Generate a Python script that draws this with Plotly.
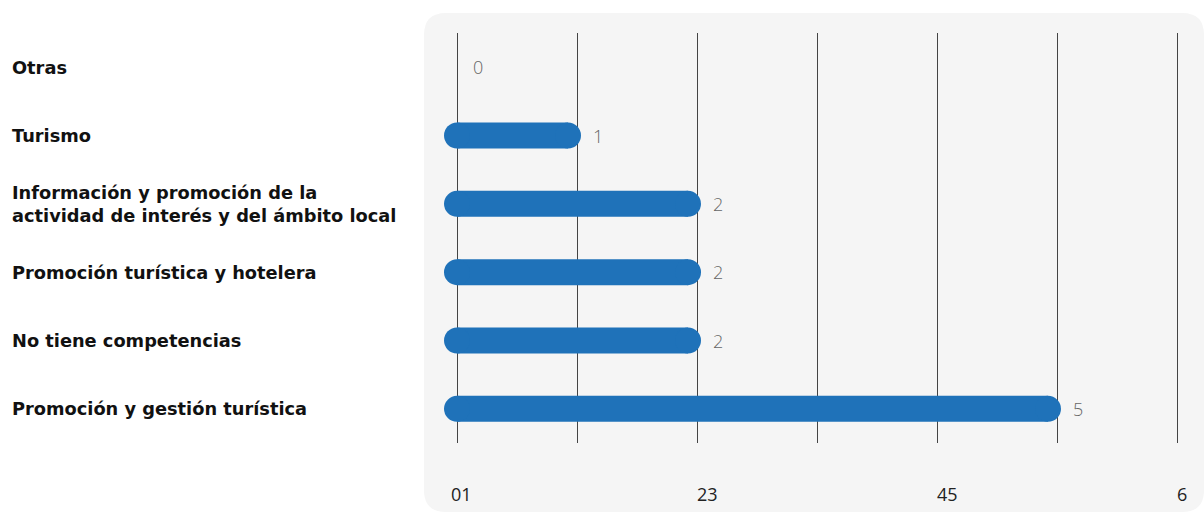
import plotly.graph_objects as go

categories = [
    "Otras",
    "Turismo",
    "Información y promoción de la<br>actividad de interés y del ámbito local",
    "Promoción turística y hotelera",
    "No tiene competencias",
    "Promoción y gestión turística",
]
values = [0, 1, 2, 2, 2, 5]
tick_vals = [0, 2, 4, 6]
tick_text = ["01", "23", "45", "6"]

W, H = 1204, 513
ML, MR, MT, MB = 439, 9, 33, 70
PW, PH = W - ML - MR, H - MT - MB
BAR_COLOR = "#1f72b9"
LABEL_FONT = "DejaVu Sans"
NUM_FONT = "Open Sans"

def px(x):
    return (x - ML) / PW

def py(y):
    return 1 - (y - MT) / PH

# rounded background panel (pixel geometry -> paper coords)
x0, y0, x1, y1, r = 424, 13, 1204, 512, 22
path = (
    f"M {px(x0+r)} {py(y0)} L {px(x1-r)} {py(y0)} "
    f"Q {px(x1)} {py(y0)} {px(x1)} {py(y0+r)} "
    f"L {px(x1)} {py(y1-r)} Q {px(x1)} {py(y1)} {px(x1-r)} {py(y1)} "
    f"L {px(x0+r)} {py(y1)} Q {px(x0)} {py(y1)} {px(x0)} {py(y1-r)} "
    f"L {px(x0)} {py(y0+r)} Q {px(x0)} {py(y0)} {px(x0+r)} {py(y0)} Z"
)

fig = go.Figure()
for cat, v in zip(categories, values):
    if v <= 0:
        continue
    fig.add_trace(go.Scatter(
        x=[0, v - 0.075], y=[cat, cat], mode="lines+markers",
        line=dict(color=BAR_COLOR, width=26),
        marker=dict(color=BAR_COLOR, size=26, line=dict(width=0)),
        cliponaxis=False, hoverinfo="skip", showlegend=False,
    ))

annotations = []
for cat, v in zip(categories, values):
    annotations.append(dict(
        x=v, y=cat, xref="x", yref="y", text=str(v), showarrow=False,
        xanchor="left", yanchor="middle", xshift=14,
        font=dict(family=NUM_FONT, size=18, color="#666", weight=300),
    ))
    annotations.append(dict(
        x=px(10), y=cat, xref="paper", yref="y", text=cat, showarrow=False,
        xanchor="left", yanchor="middle", align="left",
        font=dict(family=LABEL_FONT, size=17.8, color="#111", weight="bold"),
    ))
for tv, tt in zip(tick_vals, tick_text):
    annotations.append(dict(
        x=tv, y=py(494), xref="x", yref="paper", text=tt, showarrow=False,
        xanchor="left", yanchor="middle", xshift=-8 if tv == 0 else -2,
        font=dict(family=NUM_FONT, size=18, color="#222"),
    ))

fig.update_layout(
    width=W, height=H,
    margin=dict(l=ML, r=MR, t=MT, b=MB),
    paper_bgcolor="white", plot_bgcolor="rgba(0,0,0,0)",
    shapes=[dict(type="path", path=path, xref="paper", yref="paper",
                 fillcolor="#f5f5f5", line=dict(width=0), layer="below")],
    annotations=annotations,
    xaxis=dict(range=[-0.15, 6.15], tickvals=list(range(7)), showticklabels=False,
               showgrid=True, gridcolor="#444", gridwidth=1, zeroline=False,
               fixedrange=True),
    yaxis=dict(categoryorder="array", categoryarray=categories,
               range=[len(categories) - 0.5, -0.5],
               showticklabels=False, showgrid=False, zeroline=False, fixedrange=True),
)

fig.write_html("out.html", config={"displayModeBar": False},
               post_script="document.body.style.margin='0';")
